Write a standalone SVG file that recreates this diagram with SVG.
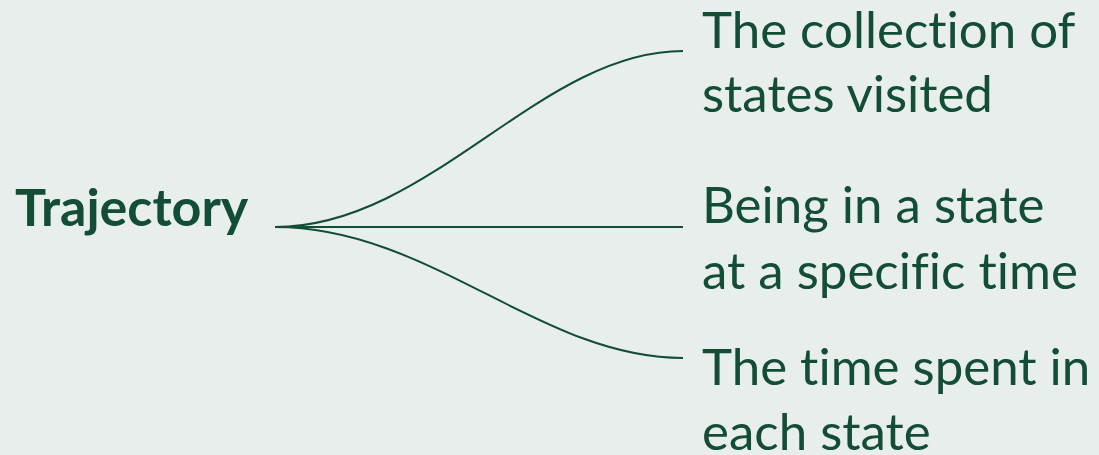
<svg xmlns="http://www.w3.org/2000/svg" width="1099" height="455" viewBox="0 0 1099 455">
<style>
text{font-variant-ligatures:none;font-feature-settings:"liga" 0,"clig" 0}
.t{font-family:Lato,"Open Sans",sans-serif;font-size:51px;fill:#134d36}
.b{font-family:Lato,"Open Sans",sans-serif;font-size:52px;font-weight:bold;fill:#134d36}
.c{fill:none;stroke:#134d36;stroke-width:2}
</style>
<rect width="1099" height="455" fill="#e7eeeb"/>
<g id="connectors">
<path class="c" d="M275,227 C430,227 540,51 683,51"/>
<path class="c" d="M275,227 L683,227"/>
<path class="c" d="M275,227 C430,227 540,358 683,358"/>
</g>
<g id="trajectory"><text class="b" x="15" y="226">Trajectory</text></g>
<g id="collection"><text class="t" x="702" y="48">The collection of</text><text class="t" x="702" y="112">states visited</text></g>
<g id="being"><text class="t" x="702" y="223">Being in a state</text><text class="t" x="702" y="289">at a specific time</text></g>
<g id="spent"><text class="t" x="702" y="385">The time spent in</text><text class="t" x="702" y="450">each state</text></g>
</svg>
